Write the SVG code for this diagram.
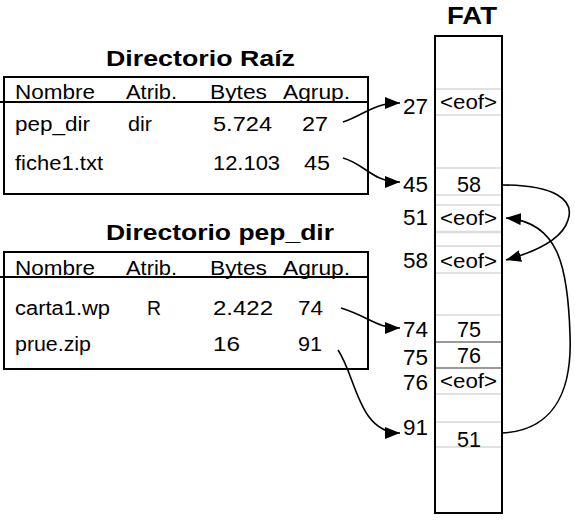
<svg xmlns="http://www.w3.org/2000/svg" width="575" height="520" viewBox="0 0 575 520">
<style>
text{font-family:"Liberation Sans",Arial,Helvetica,sans-serif;font-size:20px;fill:#000}
.t{font-weight:bold;font-size:22px}
.ft{font-weight:bold;font-size:24px}
.lb{font-size:22px}
.box{fill:none;stroke:#000;stroke-width:2}
.hl{stroke:#000;stroke-width:2}
.g{stroke:#c4c4c4;stroke-width:1.2}
.gd{stroke:#777;stroke-width:1.5}
.c{fill:none;stroke:#000;stroke-width:1.6}
.m{text-anchor:middle}
.e{text-anchor:end}
</style>
<defs>
<marker id="ah" markerUnits="userSpaceOnUse" markerWidth="16" markerHeight="12" refX="15" refY="6" orient="auto">
<path d="M0,0 L15,6 L0,12 Z" fill="#000"/>
</marker>
</defs>
<rect width="575" height="520" fill="#fff"/>

<g id="dir-raiz">
<text class="t" x="106" y="66" textLength="189" lengthAdjust="spacingAndGlyphs">Directorio Raíz</text>
<rect class="box" x="4" y="77" width="364" height="117"/>
<line class="hl" x1="0" y1="102" x2="368" y2="102"/>
<text x="15" y="99" textLength="80" lengthAdjust="spacingAndGlyphs">Nombre</text>
<text x="126" y="99" textLength="51" lengthAdjust="spacingAndGlyphs">Atrib.</text>
<text x="210" y="99" textLength="57" lengthAdjust="spacingAndGlyphs">Bytes</text>
<text x="283" y="99" textLength="67" lengthAdjust="spacingAndGlyphs">Agrup.</text>
<text x="15" y="131" textLength="75" lengthAdjust="spacingAndGlyphs">pep_dir</text>
<text x="128" y="131" textLength="24" lengthAdjust="spacingAndGlyphs">dir</text>
<text x="213" y="131" textLength="59" lengthAdjust="spacingAndGlyphs">5.724</text>
<text x="302" y="131" textLength="26" lengthAdjust="spacingAndGlyphs">27</text>
<text x="15" y="170" textLength="88" lengthAdjust="spacingAndGlyphs">fiche1.txt</text>
<text x="213" y="170" textLength="67" lengthAdjust="spacingAndGlyphs">12.103</text>
<text x="304" y="170" textLength="26" lengthAdjust="spacingAndGlyphs">45</text>
</g>

<g id="dir-pep">
<text class="t" x="106" y="240" textLength="228" lengthAdjust="spacingAndGlyphs">Directorio pep_dir</text>
<rect class="box" x="4" y="252" width="364" height="117"/>
<line class="hl" x1="0" y1="277" x2="368" y2="277"/>
<text x="15" y="275" textLength="80" lengthAdjust="spacingAndGlyphs">Nombre</text>
<text x="126" y="275" textLength="51" lengthAdjust="spacingAndGlyphs">Atrib.</text>
<text x="210" y="275" textLength="57" lengthAdjust="spacingAndGlyphs">Bytes</text>
<text x="283" y="275" textLength="67" lengthAdjust="spacingAndGlyphs">Agrup.</text>
<text x="15" y="315" textLength="95" lengthAdjust="spacingAndGlyphs">carta1.wp</text>
<text x="147" y="315" textLength="14" lengthAdjust="spacingAndGlyphs">R</text>
<text x="213" y="315" textLength="60" lengthAdjust="spacingAndGlyphs">2.422</text>
<text x="298" y="315" textLength="25" lengthAdjust="spacingAndGlyphs">74</text>
<text x="15" y="351" textLength="76" lengthAdjust="spacingAndGlyphs">prue.zip</text>
<text x="213" y="351" textLength="27" lengthAdjust="spacingAndGlyphs">16</text>
<text x="298" y="351" textLength="24" lengthAdjust="spacingAndGlyphs">91</text>
</g>

<g id="fat">
<text class="ft m" x="472" y="24" textLength="50" lengthAdjust="spacingAndGlyphs">FAT</text>
<line class="g" x1="435" y1="89" x2="502" y2="89"/>
<line class="g" x1="435" y1="115" x2="502" y2="115"/>
<line class="g" x1="435" y1="168" x2="502" y2="168"/>
<line class="g" x1="435" y1="195" x2="502" y2="195"/>
<line class="g" x1="435" y1="205" x2="502" y2="205"/>
<line class="g" x1="435" y1="232" x2="502" y2="232" style="stroke-width:2.5;stroke:#dcdcdc"/>
<line class="g" x1="435" y1="246" x2="502" y2="246"/>
<line class="g" x1="435" y1="273" x2="502" y2="273"/>
<line class="g" x1="435" y1="315" x2="502" y2="315"/>
<line class="gd" x1="435" y1="342" x2="502" y2="342"/>
<line class="gd" x1="435" y1="368" x2="502" y2="368"/>
<line class="g" x1="435" y1="394" x2="502" y2="394"/>
<line class="g" x1="435" y1="422" x2="502" y2="422"/>
<line class="g" x1="435" y1="447" x2="502" y2="447"/>
<rect class="box" x="435" y="36" width="67" height="477"/>
<text class="m" x="468.5" y="109" textLength="57" lengthAdjust="spacingAndGlyphs">&lt;eof&gt;</text>
<text class="m lb" x="469" y="192" textLength="24" lengthAdjust="spacingAndGlyphs">58</text>
<text class="m" x="468.5" y="225" textLength="57" lengthAdjust="spacingAndGlyphs">&lt;eof&gt;</text>
<text class="m" x="468.5" y="268" textLength="57" lengthAdjust="spacingAndGlyphs">&lt;eof&gt;</text>
<text class="m lb" x="469" y="337" textLength="24" lengthAdjust="spacingAndGlyphs">75</text>
<text class="m lb" x="469" y="363" textLength="24" lengthAdjust="spacingAndGlyphs">76</text>
<text class="m" x="468.5" y="388" textLength="57" lengthAdjust="spacingAndGlyphs">&lt;eof&gt;</text>
<text class="m lb" x="469" y="447" textLength="24" lengthAdjust="spacingAndGlyphs">51</text>
<text class="e lb" x="428" y="114" textLength="25" lengthAdjust="spacingAndGlyphs">27</text>
<text class="e lb" x="428" y="192" textLength="25" lengthAdjust="spacingAndGlyphs">45</text>
<text class="e lb" x="428" y="225" textLength="25" lengthAdjust="spacingAndGlyphs">51</text>
<text class="e lb" x="428" y="268" textLength="25" lengthAdjust="spacingAndGlyphs">58</text>
<text class="e lb" x="428" y="337" textLength="25" lengthAdjust="spacingAndGlyphs">74</text>
<text class="e lb" x="428" y="365" textLength="25" lengthAdjust="spacingAndGlyphs">75</text>
<text class="e lb" x="428" y="390" textLength="25" lengthAdjust="spacingAndGlyphs">76</text>
<text class="e lb" x="428" y="435" textLength="25" lengthAdjust="spacingAndGlyphs">91</text>
</g>

<g id="connectors">
<path class="c" marker-end="url(#ah)" d="M343,122 C365,115 372,103 400,103"/>
<path class="c" marker-end="url(#ah)" d="M343,158 C365,164 372,182 400,182"/>
<path class="c" marker-end="url(#ah)" d="M341,308 C370,317 376,328 400,328"/>
<path class="c" marker-end="url(#ah)" d="M338,350 C356,376 358,433 400,433"/>
<path class="c" marker-end="url(#ah)" d="M502,185 C555,185 575,200 568,220 C562,240 535,252 506,260"/>
<path class="c" marker-end="url(#ah)" d="M502,433 C558,430 572,385 570,335 C568,265 558,222 506,218"/>
</g>
</svg>
